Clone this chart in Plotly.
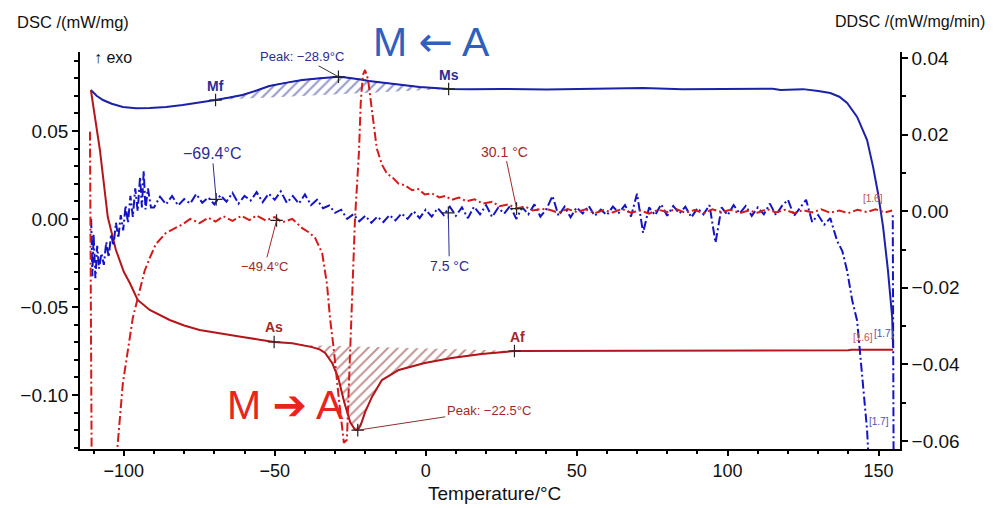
import plotly.graph_objects as go

# DSC heating / cooling, left axis (mW/mg)
cool_T = [-110.9, -109.0, -106.9, -104.0, -100.3, -96.0, -91.4, -86.0, -80.5, -75.0,
          -69.6, -65.0, -60.7, -56.0, -51.8, -46.0, -40.9, -35.0, -30.0, -28.9,
          -27.0, -24.4, -21.5, -18.8, -13.0, -7.9, -2.0, 3.0, 7.6, 15.0,
          25.1, 40.0, 55.0, 70.0, 72.0, 85.0, 100.0, 115.0, 117.5, 125.0,
          130.0, 134.0, 137.0, 139.6, 142.9, 146.2, 148.2, 149.8, 151.5, 153.1,
          154.5, 154.8]
cool_dsc = [0.0733, 0.0700, 0.0676, 0.0655, 0.0636, 0.0630, 0.0631, 0.0637, 0.0648, 0.0660,
            0.0676, 0.0690, 0.0705, 0.0730, 0.0756, 0.0775, 0.0790, 0.0800, 0.0806, 0.0808,
            0.0806, 0.0801, 0.0793, 0.0784, 0.0771, 0.0761, 0.0750, 0.0744, 0.0739, 0.0737,
            0.0739, 0.0736, 0.0739, 0.0742, 0.0744, 0.0738, 0.0737, 0.0740, 0.0733, 0.0738,
            0.0728, 0.0716, 0.0695, 0.0659, 0.0580, 0.0449, 0.0295, 0.0148, -0.0045, -0.0290,
            -0.0557, -0.0727]

heat_T = [-110.9, -107.9, -105.3, -102.6, -100.0, -98.0, -95.4, -91.4, -84.8, -80.0,
          -74.9, -68.0, -60.7, -55.0, -50.2, -44.2, -40.9, -37.6, -35.0, -33.3,
          -31.0, -29.0, -27.0, -25.0, -23.5, -22.5, -21.5, -20.0, -17.8, -14.5,
          -8.9, -0.3, 8.6, 18.5, 29.4, 38.3, 39.0, 100.0, 140.0, 141.0,
          154.8]
heat_dsc = [0.0733, 0.0392, 0.0011, -0.0176, -0.0300, -0.0364, -0.0460, -0.0517, -0.0574, -0.0605,
            -0.0631, -0.0652, -0.0670, -0.0686, -0.0699, -0.0706, -0.0716, -0.0728, -0.0742, -0.0761,
            -0.0818, -0.0900, -0.1040, -0.1155, -0.1195, -0.1200, -0.1170, -0.1095, -0.1011, -0.0915,
            -0.0858, -0.0818, -0.0790, -0.0767, -0.0750, -0.0750, -0.0746, -0.0746, -0.0746, -0.0743,
            -0.0743]

# DDSC, right axis (mW/mg/min)
heat_ddsc_T = [-111.2, -110.6, -103.0, -100.3, -97.0, -95.4, -93.1, -91.4, -89.4, -86.1, -83.0, -80.5,
               -78.0, -74.9, -72.0, -69.6, -67.0, -64.0, -61.0, -58.4, -56.0, -53.0, -50.0, -47.5, -44.2,
               -42.5, -40.9, -38.5, -36.6, -34.3, -32.7, -31.7, -30.4, -28.7, -27.1, -26.1,
               -25.4, -24.4, -23.4, -22.1, -21.5, -20.8, -20.1, -19.1, -18.2, -17.2, -16.2, -14.5,
               -12.8, -11.2, -9.0, -6.9, -4.5, -2.5, -0.3, 2.0, 4.5, 6.5, 8.6, 11.0, 13.5, 16.2,
               19.0, 22.0, 24.5, 27.4, 30.0, 33.0, 35.5, 38.3,
               41, 44, 47, 50, 53, 56, 59, 62, 65, 68, 71, 74, 77, 80, 83, 86, 89, 92, 95, 98,
               101, 104, 107, 110, 113, 116, 119, 122, 125, 128, 131, 134, 137, 140, 143, 146,
               149, 152, 154.5]
heat_ddsc = [0.0208, -0.0700, -0.0700, -0.0449, -0.0278, -0.0226, -0.0156, -0.0122, -0.0086, -0.0057, -0.0044, -0.0034,
             -0.0020, -0.0031, -0.0017, -0.0027, -0.0013, -0.0025, -0.0012, -0.0023, -0.0011, -0.0024, -0.0015, -0.0029, -0.0020,
             -0.0032, -0.0044, -0.0056, -0.0070, -0.0109, -0.0190, -0.0278, -0.0364, -0.0494, -0.0605, -0.0597,
             -0.0449, -0.0278, -0.0018, 0.0156, 0.0286, 0.0356, 0.0369, 0.0345, 0.0286, 0.0216, 0.0164, 0.0122,
             0.0098, 0.0090, 0.0072, 0.0068, 0.0055, 0.0058, 0.0044, 0.0047, 0.0036, 0.0040, 0.0030, 0.0036, 0.0026, 0.0031,
             0.0020, 0.0025, 0.0013, 0.0018, 0.0007, 0.0012, 0.0002, 0.0006,
             0.0004, -0.0004, 0.0006, -0.0002, 0.0005, -0.0005, 0.0003, -0.0003, 0.0006, -0.0004, 0.0002, -0.0006,
             0.0004, -0.0002, 0.0006, -0.0004, 0.0003, -0.0005, 0.0005, -0.0002, 0.0004, -0.0005, 0.0002, -0.0004,
             0.0006, -0.0003, 0.0004, -0.0005, 0.0003, -0.0003, 0.0005, -0.0004, 0.0002, -0.0005, 0.0004, -0.0002,
             0.0005, -0.0003, 0.0002]

cool_ddsc_T = [-110.8, -110.4, -110.0, -109.4, -108.8, -108.2, -107.4, -106.6, -105.8, -105.0,
               -104.2, -103.4, -102.6, -101.8, -101.0, -100.2, -99.4, -98.6, -97.8, -97.0,
               -96.2, -95.4, -94.6, -94.0, -93.4, -92.8, -92.0, -91.0,
               -90, -88, -86, -84, -82, -80, -78, -76, -74, -72, -70, -68, -66, -64, -62, -60,
               -58, -56, -54, -52, -50, -48, -46, -44, -42, -40, -38, -36, -34, -32, -30, -28,
               -26, -24, -22, -20, -18, -16, -14, -12, -10, -8, -6, -4, -2, 0, 2, 4,
               6, 8, 10, 12, 14, 16, 18, 20, 22, 24, 26, 28, 30, 32, 34, 36,
               38, 40, 42, 44, 46, 48, 50, 52, 54, 56, 58, 60, 62, 64, 66, 68,
               70, 72, 74, 76, 78, 80, 82, 84, 86, 88, 90, 92, 94, 96, 98, 100,
               102, 104, 106, 108, 110, 112, 114, 116, 118, 120, 122, 124, 126, 128, 130, 132,
               134,
               136.3, 138.0, 139.6, 141.3, 142.9, 143.9, 144.9, 146.2, 147.0, 155.0, 154.7]
cool_ddsc = [-0.0020, -0.0170, -0.0060, -0.0175, -0.0090, -0.0150, -0.0110, -0.0140, -0.0080, -0.0120,
             -0.0060, -0.0090, -0.0030, -0.0070, -0.0010, -0.0050, 0.0015, -0.0030, 0.0040, -0.0015,
             0.0060, 0.0000, 0.0090, 0.0010, 0.0105, 0.0005, 0.0060, 0.0010,
             0.0010, 0.0038, 0.0018, 0.0040, 0.0015, 0.0032, 0.0020, 0.0045, 0.0022, 0.0036, 0.0018, 0.0042, 0.0025, 0.0048, 0.0020, 0.0040,
             0.0028, 0.0050, 0.0024, 0.0046, 0.0030, 0.0052, 0.0022, 0.0040, 0.0020, 0.0044, 0.0016, 0.0030, 0.0008, 0.0015, -0.0004, 0.0004,
             -0.0020, -0.0008, -0.0026, -0.0012, -0.0030, -0.0014, -0.0028, -0.0010, -0.0024, -0.0006, -0.0020, 0.0000, -0.0018, 0.0004, -0.0014, 0.0008,
             -0.0010, 0.0012, -0.0012, 0.0010, -0.0018, 0.0012, -0.0008, 0.0016, -0.0015, 0.0009, -0.0006, 0.0014, -0.0020, 0.0010, -0.0008, 0.0018,
             -0.0014, 0.0006, 0.0040, -0.0012, 0.0012, -0.0016, 0.0010, -0.0006, 0.0014, -0.0012, 0.0004, -0.0010, 0.0012, -0.0004, 0.0016, -0.0014,
             0.0046, -0.0056, 0.0010, -0.0010, 0.0018, -0.0012, 0.0014, -0.0006, 0.0012, -0.0016, 0.0008, -0.0008, 0.0016, -0.0082, 0.0010, -0.0010,
             0.0016, -0.0006, 0.0014, -0.0012, 0.0010, -0.0008, 0.0020, -0.0010, 0.0014, 0.0030, -0.0012, 0.0008, 0.0030, -0.0028, -0.0010, -0.0035,
             -0.0018,
             -0.0078, -0.0104, -0.0156, -0.0234, -0.0286, -0.0377, -0.0468, -0.0571, -0.0700, -0.0700, -0.0010]

# characteristic points
dsc_mark_T = [-69.6, -28.9, 7.6, -50.2, 29.4, -22.5]
dsc_mark_v = [0.0676, 0.0808, 0.0739, -0.0699, -0.0750, -0.1200]
ddsc_mark_T = [-69.4, 7.5, -49.4, 30.1]
ddsc_mark_v = [0.0031, -0.0004, -0.0024, 0.0007]

BLUE = "#1c22a8"
BLUE_D = "#1414c4"
RED = "#b3161b"
RED_D = "#d41a1a"
NAVY_T = "#2c2c96"
DRED_T = "#a2282a"
DASHDOT = "9px,3px,2px,3px"


def hatch(T, V, t0, t1):
    xs = [t for t in T if t0 <= t <= t1]
    ys = [v for t, v in zip(T, V) if t0 <= t <= t1]
    return xs, ys


fig = go.Figure()

hx, hy = hatch(cool_T, cool_dsc, -69.6, 7.6)
fig.add_trace(go.Scatter(x=hx, y=hy, fill='toself', mode='lines', line=dict(color=BLUE, width=1),
                         fillcolor='rgba(0,0,0,0)',
                         fillpattern=dict(shape='/', fgcolor='#2a3090', bgcolor='rgba(0,0,0,0)', size=7, solidity=0.28),
                         hoverinfo='skip'))
hx, hy = hatch(heat_T, heat_dsc, -40.9, 29.4)
fig.add_trace(go.Scatter(x=hx, y=hy, fill='toself', mode='lines', line=dict(color=RED, width=1),
                         fillcolor='rgba(0,0,0,0)',
                         fillpattern=dict(shape='/', fgcolor='#8a2a2a', bgcolor='rgba(0,0,0,0)', size=7, solidity=0.28),
                         hoverinfo='skip'))

fig.add_trace(go.Scatter(x=cool_ddsc_T, y=cool_ddsc, yaxis='y2', mode='lines',
                         line=dict(color=BLUE_D, width=2, dash=DASHDOT)))
fig.add_trace(go.Scatter(x=heat_ddsc_T, y=heat_ddsc, yaxis='y2', mode='lines',
                         line=dict(color=RED_D, width=2, dash=DASHDOT)))
fig.add_trace(go.Scatter(x=cool_T, y=cool_dsc, mode='lines', line=dict(color=BLUE, width=2)))
fig.add_trace(go.Scatter(x=heat_T, y=heat_dsc, mode='lines', line=dict(color=RED, width=2)))

fig.add_trace(go.Scatter(x=dsc_mark_T, y=dsc_mark_v, mode='markers',
                         marker=dict(symbol='cross-thin', size=9, line=dict(color='#222', width=1.2))))
fig.add_trace(go.Scatter(x=ddsc_mark_T, y=ddsc_mark_v, yaxis='y2', mode='markers',
                         marker=dict(symbol='cross-thin', size=9, line=dict(color='#222', width=1.2))))

FONT = "Liberation Sans, Arial, sans-serif"
NARROW = "Liberation Sans Narrow, Liberation Sans, Arial, sans-serif"


def note(text, x, y, size, color, xanchor='center', family=None):
    f = dict(size=size, color=color)
    if family:
        f['family'] = family
    return dict(text=text, xref='paper', yref='paper', x=x, y=y, xanchor=xanchor, yanchor='middle',
                showarrow=False, font=f)


anns = [
    note("DSC /(mW/mg)", -0.079, 1.0756, 16.5, '#111', xanchor='left'),
    note("DDSC /(mW/mg/min)", 1.106, 1.0756, 16, '#111', xanchor='right'),
    note("Temperature/°C", 0.506, -0.111, 19, '#111', family=NARROW),
    note("↑ exo", 0.0146, 0.987, 16, '#111', xanchor='left'),
    note("M <span style=\"font-family:DejaVu Sans\">←</span> A", 0.429, 1.025, 41, '#2f5fbf'),
    note("M <span style=\"font-family:DejaVu Sans\">➔</span> A", 0.25, 0.111, 41, '#e8241c'),
    # transition labels
    dict(text="<b>Mf</b>", x=-69.6, y=0.0676, yshift=14, showarrow=False, font=dict(size=14, color=NAVY_T)),
    dict(text="<b>Ms</b>", x=7.6, y=0.0739, yshift=14, showarrow=False, font=dict(size=14, color=NAVY_T)),
    dict(text="<b>As</b>", x=-50.2, y=-0.0699, yshift=15, showarrow=False, font=dict(size=14, color=DRED_T)),
    dict(text="<b>Af</b>", x=29.4, y=-0.0750, yshift=14, xshift=3, showarrow=False, font=dict(size=14, color=DRED_T)),
    # peaks with pointer lines
    dict(text="Peak: −28.9°C", x=-28.9, y=0.0808, ax=-36, ay=-20, showarrow=True, arrowhead=0,
         arrowwidth=1, arrowcolor='#333', font=dict(size=13, color=NAVY_T, family=NARROW)),
    dict(text="Peak: −22.5°C", x=-22.5, y=-0.1200, ax=131, ay=-20, showarrow=True, arrowhead=0,
         arrowwidth=1, arrowcolor='#8a3030', font=dict(size=13, color=DRED_T, family=NARROW)),
    dict(text="−69.4°C", x=-69.4, y=0.0031, yref='y2', ax=-4, ay=-46, showarrow=True, arrowhead=0,
         arrowwidth=1, arrowcolor=NAVY_T, font=dict(size=16, color=NAVY_T)),
    dict(text="7.5 °C", x=7.5, y=-0.0004, yref='y2', ax=1, ay=53, showarrow=True, arrowhead=0,
         arrowwidth=1, arrowcolor=NAVY_T, font=dict(size=14, color=NAVY_T)),
    dict(text="−49.4°C", x=-49.4, y=-0.0024, yref='y2', ax=-12, ay=46, showarrow=True, arrowhead=0,
         arrowwidth=1, arrowcolor=DRED_T, font=dict(size=13, color=DRED_T)),
    dict(text="30.1 °C", x=30.1, y=0.0007, yref='y2', ax=-12, ay=-57, showarrow=True, arrowhead=0,
         arrowwidth=1, arrowcolor=DRED_T, font=dict(size=14, color=DRED_T)),
    dict(text="[1.6]", x=148.2, y=0.0034, yref='y2', showarrow=False, font=dict(size=10, color='#c05050')),
    dict(text="[1.6]", x=145.0, y=-0.0330, yref='y2', showarrow=False, font=dict(size=10, color='#c05050')),
    dict(text="[1.7]", x=151.8, y=-0.0318, yref='y2', showarrow=False, font=dict(size=10, color='#5050b0')),
    dict(text="[1.7]", x=150.0, y=-0.0550, yref='y2', showarrow=False, font=dict(size=10, color='#5050b0')),
]

axis_common = dict(showgrid=False, zeroline=False, showline=True, linecolor='black', linewidth=1.5,
                   ticks='outside', tickcolor='black', tickwidth=1.5)

# the page body keeps an 8px margin, so the figure is sized to fit inside it
fig.update_layout(
    width=992, height=500, autosize=False,
    margin=dict(l=72, r=100, t=44, b=59),
    paper_bgcolor='white', plot_bgcolor='white',
    showlegend=False,
    font=dict(family=FONT, color='#111'),
    xaxis=dict(range=[-114.5, 157.1], tickvals=[-100, -50, 0, 50, 100, 150], ticklen=5,
               minor=dict(dtick=10, tick0=0, ticks='outside', ticklen=3, tickcolor='black'),
               tickfont=dict(size=18, family=NARROW), **axis_common),
    yaxis=dict(range=[-0.1307, 0.0949], dtick=0.05, tick0=0, tickformat='.2f', ticklen=6,
               minor=dict(dtick=0.01, tick0=0, ticks='outside', ticklen=4, tickcolor='black'),
               tickfont=dict(size=19), **axis_common),
    yaxis2=dict(range=[-0.0621, 0.0416], dtick=0.02, tick0=0, tickformat='.2f', overlaying='y', side='right',
                ticklen=6, minor=dict(dtick=0.01, tick0=0, ticks='outside', ticklen=4, tickcolor='black'),
                tickfont=dict(size=19), **axis_common),
    annotations=anns,
)

fig.write_html("out.html")
